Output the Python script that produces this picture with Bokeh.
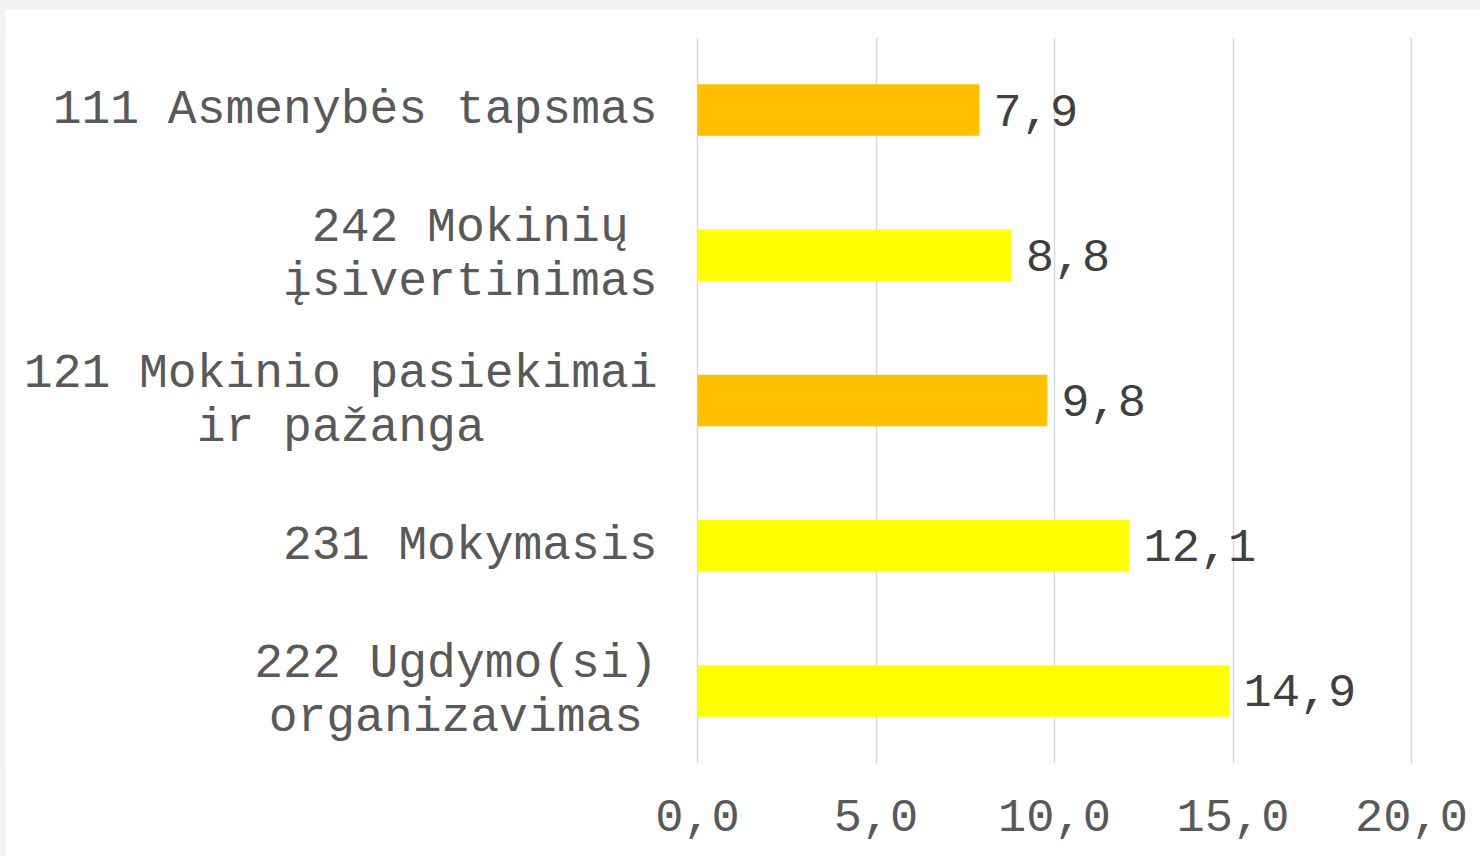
from bokeh.plotting import figure
from bokeh.layouts import column
from bokeh.models import ColumnDataSource, FactorRange, Range1d, FixedTicker
from bokeh.core.properties import value
from bokeh.embed import file_html
from bokeh.resources import INLINE

# ---- data (top to bottom as in the reference) ----
categories = [
    "111 Asmenybės tapsmas",
    "242 Mokinių\nįsivertinimas",
    "121 Mokinio pasiekimai\nir pažanga",
    "231 Mokymasis",
    "222 Ugdymo(si)\norganizavimas",
]
values = [7.9, 8.8, 9.8, 12.1, 14.9]
bar_colors = ["#FFC000", "#FFFF00", "#FFC000", "#FFFF00", "#FFFF00"]
x_ticks = [0, 5, 10, 15, 20]

FONT = "Liberation Mono"
FS = 47       # value / tick labels, px
FS_CAT = 48   # category labels, px
CHAR_W = 0.6 * FS_CAT

def fmt(v):
    return f"{v:.1f}".replace(".", ",")

# label block: right edge ~42px left of zero, lines centred within block
offsets = []
for c in categories:
    longest = max(len(s) for s in c.split("\n"))
    offsets.append(-(40 + longest * CHAR_W / 2))

src = ColumnDataSource(dict(
    cat=categories,
    val=values,
    color=bar_colors,
    zero=[0] * len(values),
    vlabel=[fmt(v) for v in values],
    loff=offsets,
))

W, H = 1475, 847
ZERO_PX = 692
px_per_unit = 714 / 20.0
x_start = -ZERO_PX / px_per_unit
x_end = (W - ZERO_PX) / px_per_unit

p = figure(
    width=W, height=H,
    y_range=FactorRange(factors=list(reversed(categories)), range_padding=0),
    x_range=Range1d(x_start, x_end),
    output_backend="svg", toolbar_location=None,
    min_border_left=0, min_border_right=0, min_border_top=28, min_border_bottom=93,
)
p.margin = (9, 0, 0, 5)
p.outline_line_color = None
p.background_fill_color = "white"
p.border_fill_color = "white"

p.hbar(y="cat", left=0, right="val", height=0.355, color="color", line_color=None, source=src)

# value labels
p.text(x="val", y="cat", text="vlabel", source=src, x_offset=14,
       text_align="left", text_baseline="middle",
       text_font=value(FONT), text_font_size=f"{FS}px", text_color="#404040")

# category labels
p.text(x="zero", y="cat", text="cat", source=src, x_offset="loff",
       text_align="center", text_baseline="middle", text_line_height=1.0,
       text_font=value(FONT), text_font_size=f"{FS_CAT}px", text_color="#595959")

p.yaxis.visible = False
p.ygrid.grid_line_color = None

p.xaxis.ticker = FixedTicker(ticks=x_ticks)
p.xaxis.major_label_overrides = {t: fmt(t) for t in x_ticks}
p.xaxis.axis_line_color = None
p.xaxis.major_tick_line_color = None
p.xaxis.minor_tick_line_color = None
p.xaxis.major_label_standoff = 30
p.xaxis.major_label_text_font = FONT
p.xaxis.major_label_text_font_size = f"{FS}px"
p.xaxis.major_label_text_color = "#595959"

p.xgrid.ticker = FixedTicker(ticks=x_ticks)
p.xgrid.grid_line_color = "#D9D9D9"
p.xgrid.grid_line_width = 1.5

page = column(p, styles={"background-color": "#F2F2F2"})

open("out.html", "w").write(file_html(page, INLINE))
